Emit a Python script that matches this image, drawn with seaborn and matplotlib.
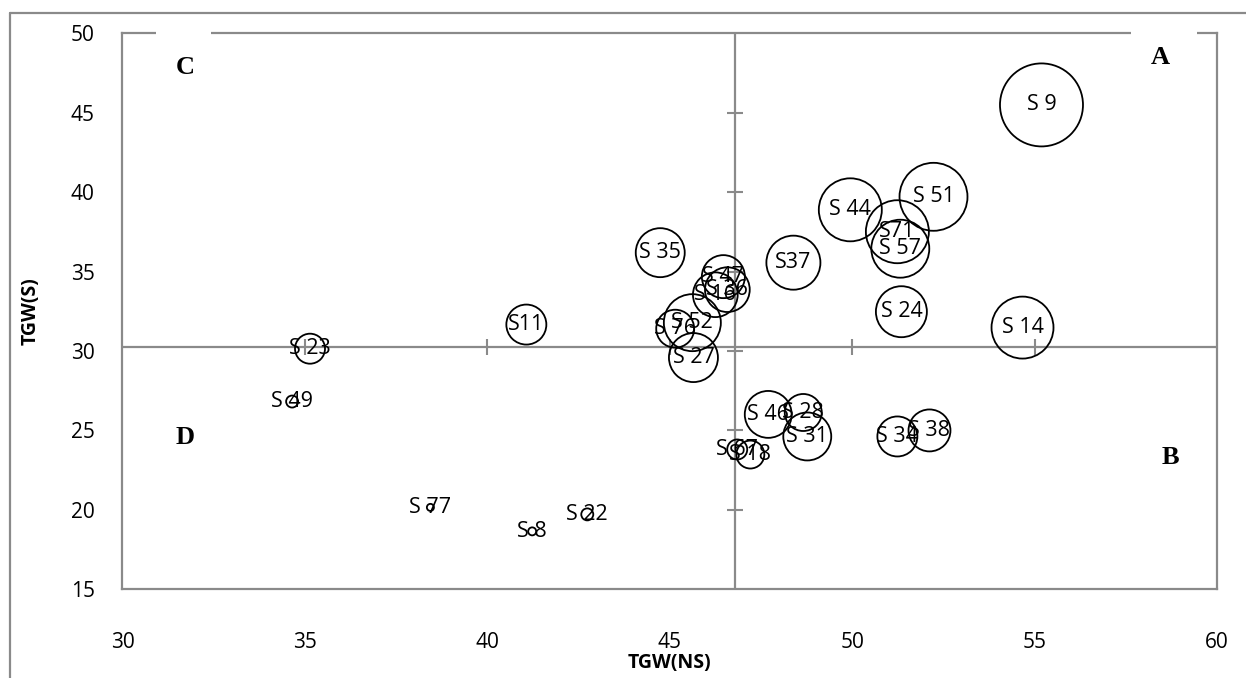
import numpy as np
import pandas as pd
import seaborn as sns
import matplotlib.pyplot as plt
from matplotlib.lines import Line2D
from matplotlib.patches import Rectangle

# bubble chart TGW(NS) vs TGW(S), bubble area = third trait (relative units)
labels = ['S 9', 'S 51', 'S 44', 'S71', 'S 57', 'S 14', 'S 24', 'S37', 'S 35',
          'S 47', 'S 16', 'S 36', 'S 52', 'S 76', 'S 27', 'S11', 'S 23',
          'S 46', 'S 28', 'S 31', 'S 34', 'S 38', 'S 67', 'S 18', 'S 49',
          'S 77', 'S 22', 'S 8']
tgw_ns = [55.19, 52.23, 49.95, 51.24, 51.32, 54.67, 51.35, 48.39, 44.74,
          46.47, 46.25, 46.58, 45.62, 45.15, 45.65, 41.07, 35.14,
          47.70, 48.66, 48.77, 51.24, 52.12, 46.85, 47.21, 34.65,
          38.44, 42.74, 41.23]
tgw_s = [45.50, 39.71, 38.89, 37.51, 36.44, 31.47, 32.47, 35.56, 36.19,
         34.68, 33.54, 33.86, 31.78, 31.40, 29.58, 31.66, 30.14,
         26.00, 26.12, 24.61, 24.61, 24.99, 23.79, 23.47, 26.81,
         20.14, 19.70, 18.63]
bubble = [68.9, 46.2, 39.7, 39.7, 33.6, 38.4, 26.0, 29.2, 24.0,
          18.5, 20.0, 20.0, 32.5, 14.4, 24.0, 16.0, 9.0,
          22.0, 13.7, 23.0, 16.0, 17.6, 4.0, 7.8, 1.44,
          0.5, 1.44, 0.64]

x_cross = 46.8   # vertical axis crosses here
y_cross = 30.25  # horizontal axis crosses here
quadrants = ['A', 'B', 'C', 'D']

df = pd.DataFrame({'label': labels, 'TGW(NS)': tgw_ns,
                   'TGW(S)': tgw_s, 'size': bubble})

sns.set_style('white')
plt.rcParams['font.family'] = ['Open Sans', 'DejaVu Sans']

fig = plt.figure(figsize=(12.46, 6.78), dpi=100)
ax = fig.add_axes([0.0983, 0.1313, 0.8784, 0.8193])

grey = '#8a8a8a'
wmax = max(bubble)
sns.scatterplot(data=df, x='TGW(NS)', y='TGW(S)', size='size',
                sizes=(0, wmax * 51.84), size_norm=(0, wmax),
                facecolor='none', edgecolor='black', linewidth=1.3,
                legend=False, ax=ax, zorder=3)
ax.collections[0].set_facecolor('none')

for _, r in df.iterrows():
    ax.text(r['TGW(NS)'], r['TGW(S)'], r['label'], ha='center', va='center',
            fontsize=15.5, color='black', zorder=4)

ax.set_xlim(30, 60)
ax.set_ylim(15, 50)
ax.set_xticks(range(30, 61, 5))
ax.set_yticks(range(15, 51, 5))
ax.tick_params(axis='x', length=0, pad=31, labelsize=15, labelcolor='black')
ax.tick_params(axis='y', length=0, pad=20, labelsize=15, labelcolor='black')
for s in ax.spines.values():
    s.set_color(grey)
    s.set_linewidth(1.6)

# axes crossing inside the plot (Excel style)
ax.axvline(x_cross, color=grey, lw=1.6, zorder=1)
ax.axhline(y_cross, color=grey, lw=1.6, zorder=1)
xt = [v for v in range(35, 60, 5)]
yt = [v for v in range(20, 50, 5)]
ax.plot(xt, [y_cross] * len(xt), ls='none', marker='|', ms=11,
        mew=1.5, color=grey, zorder=1)
ax.plot([x_cross] * len(yt), yt, ls='none', marker='_', ms=11,
        mew=1.5, color=grey, zorder=1)

ax.set_xlabel('TGW(NS)', fontsize=14, fontweight='bold', color='black',
              va='center')
ax.set_ylabel('TGW(S)', fontsize=14, fontweight='bold', color='black',
              va='center')
ax.xaxis.set_label_coords(0.5, -0.133)
ax.yaxis.set_label_coords(-0.084, 0.5)

# quadrant letters with white text boxes
qfont = dict(family='Liberation Serif', fontweight='bold', fontsize=19,
             color='black', ha='center', va='center',
             transform=fig.transFigure)
qpos = {'A': (1160, 57), 'B': (1170, 457), 'C': (185, 67), 'D': (185, 438)}
for q in quadrants:
    px, py = qpos[q]
    fig.text(px / 1246, 1 - py / 678, q, **qfont)
for x0, x1 in [(156, 211), (1131, 1197)]:
    fig.patches.append(Rectangle((x0 / 1246, 1 - 45 / 678),
                                 (x1 - x0) / 1246, 18 / 678,
                                 transform=fig.transFigure, facecolor='white',
                                 edgecolor='none', zorder=5))

# outer chart-area frame
fig.add_artist(Line2D([10 / 1246, 10 / 1246], [0, 1 - 13 / 678],
                      transform=fig.transFigure, color=grey, lw=1.6))
fig.add_artist(Line2D([10 / 1246, 1], [1 - 13 / 678, 1 - 13 / 678],
                      transform=fig.transFigure, color=grey, lw=1.6))

fig.savefig('out.png', dpi=100)
